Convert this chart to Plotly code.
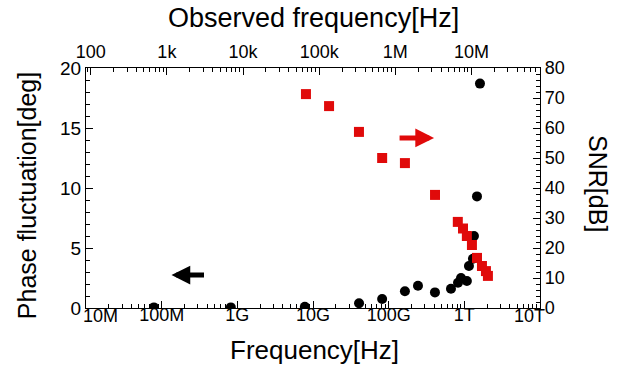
import plotly.graph_objects as go

# ---- data ----
phase_freq = [7.9e7, 8.2e8, 7.8e9, 4.06e10, 8.2e10, 1.64e11, 2.44e11, 4.09e11, 6.66e11,
              8.25e11, 9.04e11, 1.08e12, 1.15e12, 1.30e12, 1.34e12, 1.47e12, 1.61e12]
phase_deg = [0.05, 0.05, 0.1, 0.4, 0.75, 1.4, 1.85, 1.3, 1.6,
             2.1, 2.5, 2.25, 3.5, 4.1, 6.0, 9.3, 18.7]

snr_freq = [8.07e9, 1.63e10, 4.05e10, 8.2e10, 1.64e11, 4.1e11, 8.2e11,
            9.6e11, 1.08e12, 1.26e12, 1.47e12, 1.71e12, 1.93e12, 2.05e12]
snr_db = [71.3, 67.3, 58.7, 50.0, 48.3, 37.7, 28.7,
          26.5, 24.0, 21.0, 16.7, 14.0, 12.3, 10.7]

bottom_tickvals = [1e7, 1e8, 1e9, 1e10, 1e11, 1e12, 1e13]
bottom_ticktext = ["10M", "100M", "1G", "10G", "100G", "1T", "10T"]
top_tickvals = [1e2, 1e3, 1e4, 1e5, 1e6, 1e7]
top_ticktext = ["100", "1k", "10k", "100k", "1M", "10M"]
left_tickvals = [0, 5, 10, 15, 20]
right_tickvals = [0, 10, 20, 30, 40, 50, 60, 70, 80]

bottom_minor = [m * 10 ** e for e in range(7, 13) for m in range(2, 10)]
top_minor = [m * 10 ** e for e in range(1, 8) for m in range(2, 10)]

FONT = "Liberation Sans"
RED = "#e00a0a"

fig = go.Figure()
fig.add_trace(go.Scatter(x=phase_freq, y=phase_deg, mode="markers",
                         marker=dict(symbol="circle", size=10, color="black"),
                         xaxis="x", yaxis="y", showlegend=False))
fig.add_trace(go.Scatter(x=snr_freq, y=snr_db, mode="markers",
                         marker=dict(symbol="square", size=10, color=RED),
                         xaxis="x", yaxis="y2", showlegend=False))
# invisible trace so the top axis exists
fig.add_trace(go.Scatter(x=[1e3], y=[0], mode="markers", marker=dict(opacity=0),
                         xaxis="x2", yaxis="y", showlegend=False, hoverinfo="skip"))

common = dict(showline=True, linecolor="black", linewidth=1.2, showgrid=False,
              zeroline=False, ticks="inside", tickcolor="black", tickwidth=1.2,
              ticklen=7)

# end labels of the bottom axis are drawn as annotations (shifted inward)
inner_text = [t if i not in (0, len(bottom_ticktext) - 1) else ""
              for i, t in enumerate(bottom_ticktext)]

fig.update_layout(
    width=619, height=369, autosize=False,
    margin=dict(l=86, r=79, t=68, b=61),
    paper_bgcolor="white", plot_bgcolor="white",
    font=dict(family=FONT, color="black"),
    xaxis=dict(type="log", range=[7, 13], tickmode="array",
               tickvals=bottom_tickvals, ticktext=inner_text,
               tickfont=dict(size=18, family=FONT), ticklabelstandoff=-10,
               minor=dict(tickmode="array", tickvals=bottom_minor, ticks="inside",
                          ticklen=4, tickcolor="black", tickwidth=1),
               anchor="y", **common),
    xaxis2=dict(type="log", range=[1.938, 7.9], overlaying="x", side="top",
                tickmode="array", tickvals=top_tickvals, ticktext=top_ticktext,
                tickfont=dict(size=18, family=FONT), ticklabelstandoff=2,
                minor=dict(tickmode="array", tickvals=top_minor, ticks="inside",
                           ticklen=4, tickcolor="black", tickwidth=1),
                anchor="y", **common),
    yaxis=dict(range=[0, 20], tickmode="array", tickvals=left_tickvals,
               tickfont=dict(size=19, family=FONT),
               minor=dict(dtick=1, ticks="inside", ticklen=4, tickcolor="black",
                          tickwidth=1),
               anchor="x", **common),
    yaxis2=dict(range=[0, 80], overlaying="y", side="right", tickmode="array",
                tickvals=right_tickvals, tickfont=dict(size=18, family=FONT),
                minor=dict(dtick=2, ticks="inside", ticklen=4, tickcolor="black",
                           tickwidth=1),
                anchor="x", **common),
)

annotations = [
    dict(text=bottom_ticktext[0], x=7, y=-0.033, xref="x", yref="paper", xshift=14,
         showarrow=False, font=dict(size=18, family=FONT), xanchor="center", yanchor="middle"),
    dict(text=bottom_ticktext[-1], x=13, y=-0.033, xref="x", yref="paper", xshift=-11,
         showarrow=False, font=dict(size=18, family=FONT), xanchor="center", yanchor="middle"),
    dict(text="Observed frequency[Hz]", x=0.5, y=1.21, xref="paper", yref="paper",
         showarrow=False, font=dict(size=27, family=FONT), xanchor="center", yanchor="middle"),
    dict(text="Frequency[Hz]", x=0.504, y=-0.175, xref="paper", yref="paper",
         showarrow=False, font=dict(size=26, family=FONT), xanchor="center", yanchor="middle"),
    dict(text="Phase fluctuation[deg]", x=-0.13, y=0.47, xref="paper", yref="paper",
         showarrow=False, textangle=-90, font=dict(size=25, family=FONT),
         xanchor="center", yanchor="middle"),
    dict(text="SNR[dB]", x=1.128, y=0.52, xref="paper", yref="paper",
         showarrow=False, textangle=90, font=dict(size=25, family=FONT),
         xanchor="center", yanchor="middle"),
    # arrows indicating axes
    dict(x=8.13, y=2.75, xref="x", yref="y", ax=34, ay=0, text="",
         showarrow=True, arrowhead=2, arrowwidth=5, arrowsize=0.75, arrowcolor="black"),
    dict(x=11.60, y=56.7, xref="x", yref="y2", ax=-36, ay=0, text="",
         showarrow=True, arrowhead=2, arrowwidth=5, arrowsize=0.75, arrowcolor=RED),
]
fig.update_layout(annotations=annotations)

fig.write_html("out.html")
